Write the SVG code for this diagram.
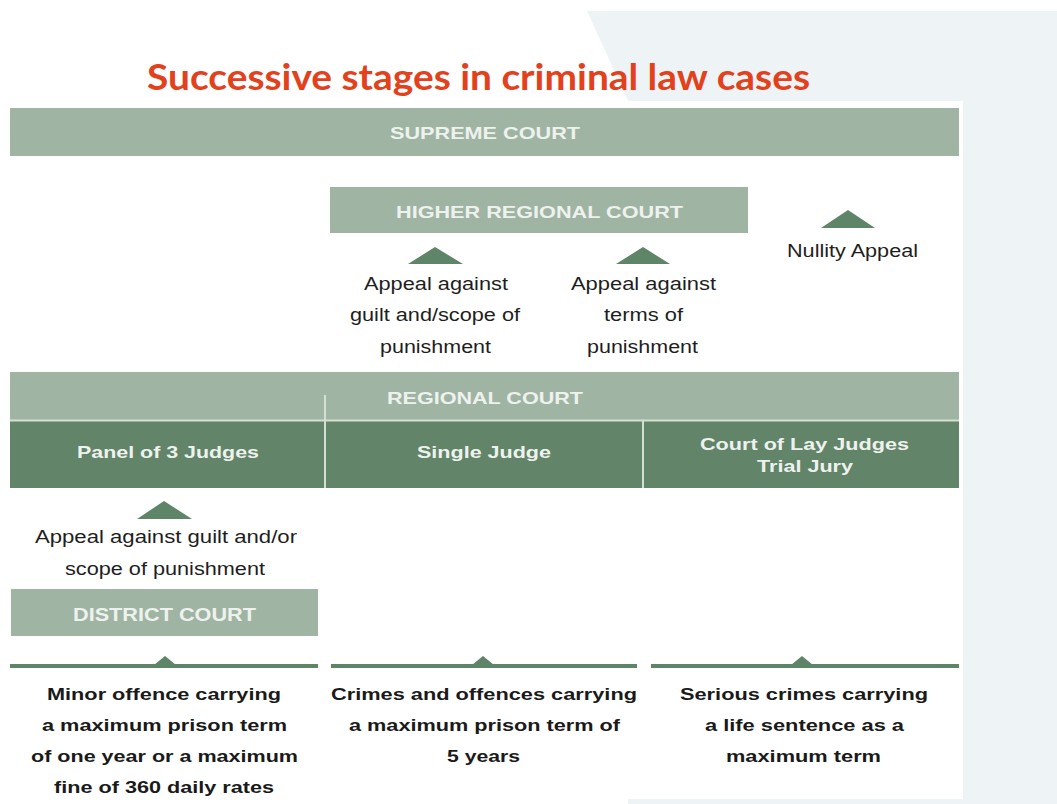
<svg xmlns="http://www.w3.org/2000/svg" width="1057" height="804" viewBox="0 0 1057 804">
  <defs>
    <style>
      .bg-soft { fill: #eef3f6; }
      .panel { fill: #ffffff; }
      .bar-light { fill: #9fb4a3; }
      .bar-dark { fill: #628468; }
      .sep { stroke: #d3dfd3; stroke-width: 2; }
      .tri { fill: #5e8567; }
      .rail { fill: #5e8567; }
      .title { font-family: Lato, "Open Sans", "Liberation Sans", sans-serif; font-weight: 700; font-size: 36px; fill: #e2411c; }
      .bar-text { font-family: "Liberation Sans", Arial, sans-serif; font-weight: 700; font-size: 16.5px; fill: #eef2ee; text-anchor: middle; }
      .note { font-family: "Liberation Sans", Arial, sans-serif; font-size: 17.5px; fill: #1e1e1e; text-anchor: middle; }
      .desc { font-family: "Liberation Sans", Arial, sans-serif; font-weight: 700; font-size: 17px; fill: #1a1a1a; text-anchor: middle; }
    </style>
  </defs>

  <!-- page background with slanted light panel -->
  <rect x="0" y="0" width="1057" height="804" fill="#ffffff"/>
  <polygon class="bg-soft" points="587,11 1057,11 1057,804 628,804 628,101"/>
  <rect class="panel" x="0" y="101" width="963" height="698"/>

  <text class="title" x="147" y="90" textLength="663" lengthAdjust="spacingAndGlyphs">Successive stages in criminal law cases</text>

  <g id="supreme-court">
    <rect class="bar-light" x="10" y="108" width="949" height="48"/>
    <text class="bar-text" x="485" y="139" textLength="190" lengthAdjust="spacingAndGlyphs">SUPREME COURT</text>
  </g>

  <g id="higher-regional-court">
    <rect class="bar-light" x="330" y="187" width="418" height="46"/>
    <text class="bar-text" x="539.5" y="218" textLength="287" lengthAdjust="spacingAndGlyphs">HIGHER REGIONAL COURT</text>
  </g>

  <g id="appeal-guilt-scope">
    <polygon class="tri" points="408,264 435,247 463,264"/>
    <text class="note" x="436" y="290" textLength="144" lengthAdjust="spacingAndGlyphs">Appeal against</text>
    <text class="note" x="435" y="321" textLength="170" lengthAdjust="spacingAndGlyphs">guilt and/scope of</text>
    <text class="note" x="435.5" y="353" textLength="111" lengthAdjust="spacingAndGlyphs">punishment</text>
  </g>

  <g id="appeal-terms">
    <polygon class="tri" points="616,264 643,247 670,264"/>
    <text class="note" x="643.5" y="290" textLength="145" lengthAdjust="spacingAndGlyphs">Appeal against</text>
    <text class="note" x="643.5" y="321" textLength="79" lengthAdjust="spacingAndGlyphs">terms of</text>
    <text class="note" x="642.5" y="353" textLength="111" lengthAdjust="spacingAndGlyphs">punishment</text>
  </g>

  <g id="nullity-appeal">
    <polygon class="tri" points="821,228 848,210 875,228"/>
    <text class="note" x="852.5" y="257" textLength="131" lengthAdjust="spacingAndGlyphs">Nullity Appeal</text>
  </g>

  <g id="regional-court">
    <rect class="bar-light" x="10" y="372" width="949" height="48"/>
    <text class="bar-text" x="485" y="404" textLength="196" lengthAdjust="spacingAndGlyphs">REGIONAL COURT</text>
    <rect class="bar-dark" x="10" y="421" width="949" height="67"/>
    <line class="sep" x1="10" y1="420.5" x2="959" y2="420.5"/>
    <line class="sep" x1="325" y1="395" x2="325" y2="488"/>
    <line class="sep" x1="643" y1="421" x2="643" y2="488"/>
  </g>

  <g id="panel-of-3-judges">
    <text class="bar-text" x="168" y="458" textLength="182" lengthAdjust="spacingAndGlyphs">Panel of 3 Judges</text>
  </g>
  <g id="single-judge">
    <text class="bar-text" x="484" y="458" textLength="134" lengthAdjust="spacingAndGlyphs">Single Judge</text>
  </g>
  <g id="lay-judges">
    <text class="bar-text" x="804.5" y="450" textLength="209" lengthAdjust="spacingAndGlyphs">Court of Lay Judges</text>
    <text class="bar-text" x="805" y="472" textLength="96" lengthAdjust="spacingAndGlyphs">Trial Jury</text>
  </g>

  <g id="appeal-guilt-andor">
    <polygon class="tri" points="137,519 164,501 192,519"/>
    <text class="note" x="166" y="543" textLength="262" lengthAdjust="spacingAndGlyphs">Appeal against guilt  and/or</text>
    <text class="note" x="165" y="575" textLength="200" lengthAdjust="spacingAndGlyphs">scope of punishment</text>
  </g>

  <g id="district-court">
    <rect class="bar-light" x="11" y="589" width="307" height="47"/>
    <text class="bar-text" x="164.5" y="621" style="font-size:17.5px" textLength="183" lengthAdjust="spacingAndGlyphs">DISTRICT COURT</text>
  </g>

  <!-- entry rails with small peaks -->
  <g id="connectors">
    <rect class="rail" x="10" y="664" width="308" height="4"/>
    <polygon class="rail" points="154,665 165,656 176,665"/>
    <rect class="rail" x="331" y="664" width="306" height="4"/>
    <polygon class="rail" points="472,665 483,656 494,665"/>
    <rect class="rail" x="651" y="664" width="308" height="4"/>
    <polygon class="rail" points="791,665 802,656 813,665"/>
  </g>

  <g id="minor-offence">
    <text class="desc" x="164" y="700" textLength="234" lengthAdjust="spacingAndGlyphs">Minor offence carrying</text>
    <text class="desc" x="164.5" y="731" textLength="245" lengthAdjust="spacingAndGlyphs">a maximum prison term</text>
    <text class="desc" x="164.5" y="762" textLength="267" lengthAdjust="spacingAndGlyphs">of one year or a maximum</text>
    <text class="desc" x="164" y="793" textLength="220" lengthAdjust="spacingAndGlyphs">fine of 360 daily rates</text>
  </g>
  <g id="crimes-and-offences">
    <text class="desc" x="484" y="700" textLength="306" lengthAdjust="spacingAndGlyphs">Crimes and offences carrying</text>
    <text class="desc" x="484.5" y="731" textLength="271" lengthAdjust="spacingAndGlyphs">a maximum prison term of</text>
    <text class="desc" x="483.5" y="762" textLength="73" lengthAdjust="spacingAndGlyphs">5 years</text>
  </g>
  <g id="serious-crimes">
    <text class="desc" x="804" y="700" textLength="248" lengthAdjust="spacingAndGlyphs">Serious crimes carrying</text>
    <text class="desc" x="804.5" y="731" textLength="199" lengthAdjust="spacingAndGlyphs">a life sentence as a</text>
    <text class="desc" x="803.5" y="762" textLength="155" lengthAdjust="spacingAndGlyphs">maximum term</text>
  </g>
</svg>
